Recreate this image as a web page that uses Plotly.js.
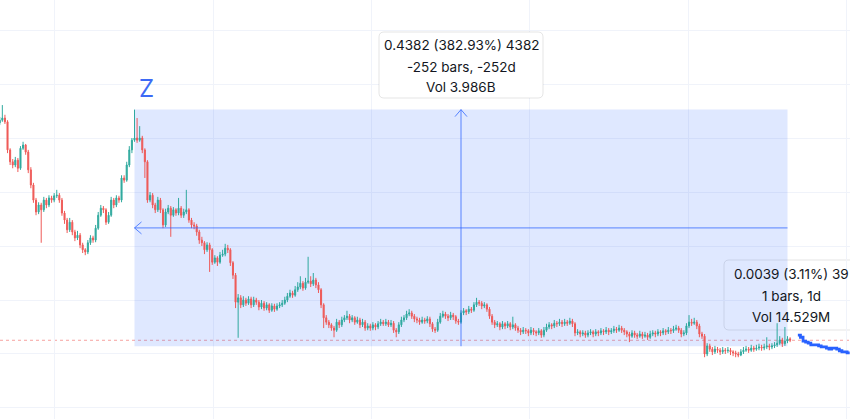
<!DOCTYPE html>
<html>
<head>
<meta charset="utf-8">
<script src="https://cdn.plot.ly/plotly-3.0.1.min.js"></script>
<style>html,body{margin:0;padding:0;background:#fff;}#chart{width:850px;height:419px;}</style>
</head>
<body>
<div id="chart"></div>
<script>
// ---- data (daily bars, price) ----
const firstOpen = 0.528;
const closePrices = [
0.533,0.537,0.530,0.478,0.456,0.450,0.459,0.444,0.481,0.487,
0.474,0.441,0.413,0.385,0.363,0.376,0.367,0.385,0.376,0.389,
0.385,0.393,0.394,0.385,0.361,0.348,0.330,0.344,0.326,0.315,
0.320,0.302,0.293,0.289,0.306,0.315,0.311,0.333,0.357,0.370,
0.367,0.344,0.357,0.385,0.376,0.389,0.385,0.426,0.422,0.450,
0.478,0.496,0.500,0.496,0.500,0.478,0.456,0.385,0.394,0.376,
0.367,0.385,0.367,0.339,0.363,0.370,0.357,0.367,0.361,0.370,
0.357,0.363,0.367,0.348,0.339,0.337,0.326,0.311,0.306,0.293,
0.302,0.293,0.270,0.278,0.270,0.283,0.285,0.296,0.293,0.269,
0.246,0.196,0.204,0.191,0.200,0.194,0.202,0.191,0.200,0.196,
0.187,0.194,0.185,0.191,0.181,0.189,0.183,0.189,0.191,0.194,
0.200,0.207,0.213,0.209,0.219,0.224,0.231,0.222,0.233,0.235,
0.230,0.237,0.228,0.219,0.191,0.167,0.159,0.154,0.148,0.144,
0.159,0.154,0.163,0.167,0.170,0.163,0.167,0.159,0.163,0.154,
0.159,0.148,0.152,0.148,0.154,0.150,0.156,0.159,0.156,0.159,
0.154,0.157,0.144,0.141,0.154,0.163,0.167,0.174,0.176,0.170,
0.165,0.163,0.159,0.163,0.161,0.165,0.156,0.146,0.144,0.159,
0.170,0.174,0.170,0.167,0.172,0.169,0.161,0.159,0.176,0.180,
0.178,0.183,0.181,0.191,0.196,0.194,0.189,0.191,0.183,0.170,
0.159,0.154,0.156,0.150,0.156,0.152,0.156,0.150,0.154,0.148,
0.144,0.141,0.144,0.143,0.139,0.144,0.141,0.139,0.143,0.135,
0.144,0.150,0.154,0.152,0.157,0.156,0.159,0.156,0.159,0.157,
0.161,0.156,0.139,0.141,0.137,0.139,0.135,0.139,0.141,0.137,
0.141,0.139,0.143,0.141,0.144,0.141,0.143,0.146,0.144,0.148,
0.144,0.141,0.137,0.133,0.139,0.135,0.133,0.137,0.133,0.135,
0.131,0.137,0.139,0.137,0.141,0.139,0.143,0.141,0.144,0.143,
0.146,0.148,0.144,0.137,0.139,0.152,0.159,0.157,0.159,0.152,
0.137,0.133,0.100,0.115,0.109,0.104,0.109,0.107,0.104,0.107,
0.106,0.107,0.104,0.102,0.100,0.098,0.104,0.107,0.109,0.107,
0.111,0.109,0.111,0.113,0.111,0.113,0.115,0.113,0.115,0.117,
0.120,0.126,0.119,0.124,0.128,0.1254
];
const highPrices = [
0.539,0.561,0.543,0.533,0.481,0.461,0.465,0.463,0.485,0.493,
0.489,0.478,0.446,0.417,0.389,0.381,0.380,0.391,0.389,0.394,
0.393,0.398,0.404,0.398,0.389,0.365,0.352,0.352,0.348,0.330,
0.328,0.324,0.306,0.296,0.311,0.320,0.319,0.339,0.363,0.376,
0.374,0.370,0.363,0.391,0.389,0.394,0.393,0.431,0.431,0.456,
0.485,0.500,0.5526,0.537,0.522,0.504,0.481,0.459,0.400,0.398,
0.380,0.391,0.389,0.370,0.369,0.376,0.374,0.372,0.370,0.389,
0.374,0.369,0.404,0.370,0.352,0.344,0.341,0.330,0.317,0.309,
0.307,0.306,0.296,0.283,0.281,0.289,0.293,0.304,0.302,0.296,
0.272,0.250,0.211,0.209,0.207,0.204,0.207,0.206,0.206,0.204,
0.200,0.200,0.198,0.196,0.194,0.194,0.193,0.194,0.196,0.200,
0.206,0.213,0.219,0.217,0.226,0.233,0.244,0.235,0.241,0.280,
0.244,0.250,0.241,0.233,0.222,0.194,0.172,0.163,0.157,0.152,
0.165,0.163,0.169,0.172,0.180,0.174,0.172,0.170,0.169,0.167,
0.165,0.163,0.157,0.156,0.159,0.157,0.161,0.165,0.163,0.165,
0.163,0.163,0.161,0.148,0.159,0.169,0.172,0.180,0.183,0.180,
0.174,0.169,0.167,0.169,0.167,0.170,0.169,0.159,0.150,0.165,
0.176,0.180,0.178,0.174,0.178,0.176,0.172,0.165,0.181,0.185,
0.183,0.189,0.187,0.196,0.204,0.200,0.198,0.196,0.194,0.187,
0.174,0.163,0.161,0.159,0.161,0.159,0.161,0.159,0.169,0.157,
0.152,0.148,0.150,0.148,0.146,0.150,0.148,0.144,0.148,0.146,
0.150,0.156,0.159,0.157,0.163,0.161,0.165,0.163,0.165,0.163,
0.167,0.165,0.159,0.146,0.144,0.144,0.143,0.144,0.146,0.144,
0.146,0.144,0.148,0.146,0.150,0.148,0.148,0.152,0.150,0.154,
0.152,0.148,0.144,0.141,0.144,0.143,0.139,0.143,0.141,0.141,
0.139,0.143,0.144,0.143,0.146,0.144,0.148,0.146,0.150,0.148,
0.152,0.154,0.152,0.148,0.144,0.157,0.172,0.165,0.167,0.163,
0.156,0.141,0.137,0.120,0.119,0.113,0.115,0.113,0.111,0.113,
0.111,0.113,0.111,0.107,0.106,0.104,0.109,0.113,0.115,0.113,
0.117,0.115,0.117,0.119,0.117,0.119,0.131,0.119,0.120,0.122,
0.157,0.133,0.130,0.150,0.133,0.131
];
const lowPrices = [
0.524,0.530,0.526,0.472,0.450,0.444,0.446,0.437,0.441,0.478,
0.469,0.435,0.407,0.380,0.357,0.359,0.306,0.363,0.370,0.372,
0.380,0.381,0.389,0.380,0.356,0.341,0.324,0.326,0.320,0.309,
0.311,0.296,0.287,0.283,0.285,0.302,0.306,0.307,0.330,0.354,
0.361,0.339,0.341,0.354,0.370,0.372,0.380,0.381,0.417,0.419,
0.446,0.472,0.493,0.491,0.493,0.472,0.426,0.380,0.381,0.370,
0.361,0.363,0.361,0.333,0.335,0.359,0.317,0.354,0.356,0.357,
0.352,0.352,0.359,0.343,0.333,0.331,0.319,0.304,0.300,0.285,
0.289,0.252,0.265,0.267,0.263,0.267,0.280,0.281,0.287,0.263,
0.239,0.185,0.130,0.185,0.187,0.189,0.191,0.185,0.187,0.191,
0.181,0.183,0.180,0.181,0.176,0.178,0.178,0.180,0.185,0.187,
0.191,0.196,0.204,0.204,0.206,0.215,0.220,0.217,0.219,0.230,
0.224,0.226,0.222,0.213,0.185,0.148,0.154,0.148,0.143,0.131,
0.141,0.148,0.150,0.159,0.163,0.157,0.159,0.154,0.156,0.148,
0.150,0.143,0.144,0.143,0.144,0.144,0.146,0.152,0.152,0.152,
0.150,0.150,0.139,0.131,0.137,0.150,0.159,0.163,0.170,0.165,
0.159,0.157,0.154,0.156,0.156,0.157,0.150,0.141,0.139,0.141,
0.156,0.167,0.165,0.161,0.163,0.163,0.156,0.154,0.156,0.172,
0.172,0.174,0.176,0.178,0.187,0.189,0.183,0.185,0.178,0.165,
0.154,0.148,0.150,0.144,0.146,0.146,0.148,0.144,0.146,0.143,
0.139,0.135,0.137,0.137,0.133,0.135,0.135,0.133,0.135,0.130,
0.131,0.141,0.146,0.146,0.148,0.150,0.152,0.150,0.152,0.152,
0.154,0.150,0.133,0.135,0.131,0.133,0.130,0.131,0.135,0.131,
0.133,0.133,0.135,0.135,0.137,0.135,0.137,0.139,0.139,0.141,
0.139,0.135,0.131,0.122,0.130,0.130,0.128,0.130,0.128,0.130,
0.126,0.128,0.133,0.131,0.133,0.133,0.135,0.135,0.137,0.137,
0.139,0.143,0.139,0.131,0.133,0.135,0.148,0.152,0.154,0.146,
0.131,0.128,0.094,0.096,0.104,0.098,0.100,0.102,0.098,0.100,
0.100,0.102,0.098,0.096,0.094,0.094,0.096,0.100,0.104,0.102,
0.104,0.104,0.106,0.107,0.106,0.107,0.109,0.107,0.109,0.111,
0.113,0.117,0.113,0.115,0.120,0.122
];
// projected path after the last bar
const forecastStartBar = 308;
const forecastPrices = [
0.135,0.131,0.124,0.122,0.120,0.117,0.117,0.117,0.115,0.113,0.113,
0.111,0.109,0.111,0.111,0.109,0.106,0.104,0.104,0.102,0.102
];
// measurement (date/price range tool)
const measureEndBar = 304;
const measureBars = 252;
const measureLow = 0.1144;
const measureHigh = 0.5526;
const measureLabel = ["0.4382 (382.93%) 4382", "-252 bars, -252d", "Vol 3.986B"];
const smallLabel = ["0.0039 (3.11%) 39", "1 bars, 1d", "Vol 14.529M"];

// ---- build ----
const openPrices = closePrices.map((c, i) => i === 0 ? firstOpen : closePrices[i - 1]);
const bars = closePrices.map((_, i) => i);
const forecastBars = forecastPrices.map((_, k) => forecastStartBar + k);
const lastClose = closePrices[closePrices.length - 1];

const W = 850, H = 419;
const px = v => v / W, py = v => 1 - v / H;
function roundRect(x0, y0, x1, y1, r) {
  const a = px(x0), b = px(x1), t = py(y0), u = py(y1), rx = r / W, ry = r / H;
  return `M ${a+rx} ${t} L ${b-rx} ${t} Q ${b} ${t} ${b} ${t-ry} L ${b} ${u+ry} Q ${b} ${u} ${b-rx} ${u} L ${a+rx} ${u} Q ${a} ${u} ${a} ${u+ry} L ${a} ${t-ry} Q ${a} ${t} ${a+rx} ${t} Z`;
}

const blue = '#2962ff';
const toolLine = 'rgba(41,98,255,0.75)';
const x0 = measureEndBar - measureBars, x1 = measureEndBar;
const xm = (x0 + x1) / 2, ym = (measureLow + measureHigh) / 2;

const traces = [
  {
    type: 'candlestick', x: bars, open: openPrices, high: highPrices, low: lowPrices, close: closePrices,
    increasing: {line: {color: '#26a69a', width: 1}, fillcolor: '#26a69a'},
    decreasing: {line: {color: '#ef5350', width: 1}, fillcolor: '#ef5350'},
    whiskerwidth: 0, hoverinfo: 'skip', opacity: 0.95
  },
  {
    type: 'scatter', mode: 'lines', x: forecastBars, y: forecastPrices,
    line: {color: blue, width: 2.8, shape: 'hv'}, hoverinfo: 'skip'
  }
];

const shapes = [
  // small tooltip (underneath everything)
  {type: 'path', xref: 'paper', yref: 'paper', path: roundRect(724, 260, 860, 330, 5),
   fillcolor: '#ffffff', line: {color: 'rgba(0,0,0,0.10)', width: 1}, layer: 'below'},
  // measure box
  {type: 'rect', xref: 'x', yref: 'y', x0: x0, x1: x1, y0: measureLow, y1: measureHigh,
   fillcolor: 'rgba(41,98,255,0.15)', line: {width: 0}, layer: 'between'},
  {type: 'line', xref: 'x', yref: 'y', x0: xm, x1: xm, y0: measureLow, y1: measureHigh,
   line: {color: toolLine, width: 1}, layer: 'above'},
  {type: 'line', xref: 'x', yref: 'y', x0: x0, x1: x1, y0: ym, y1: ym,
   line: {color: toolLine, width: 1}, layer: 'above'},
  // arrow heads
  {type: 'path', xref: 'x', yref: 'y', xsizemode: 'pixel', ysizemode: 'pixel', xanchor: xm, yanchor: measureHigh,
   path: 'M -6 -7 L 0 0 L 6 -7', line: {color: toolLine, width: 1}, layer: 'above'},
  {type: 'path', xref: 'x', yref: 'y', xsizemode: 'pixel', ysizemode: 'pixel', xanchor: x0, yanchor: ym,
   path: 'M 7 6 L 0 0 L 7 -6', line: {color: toolLine, width: 1}, layer: 'above'},
  // last price line
  {type: 'line', xref: 'paper', yref: 'y', x0: 0, x1: 1, y0: lastClose, y1: lastClose,
   line: {color: 'rgba(239,83,80,0.55)', width: 1, dash: 'dot'}, layer: 'between'},
  // main tooltip
  {type: 'path', xref: 'paper', yref: 'paper', path: roundRect(379, 32, 543, 98, 5),
   fillcolor: '#ffffff', line: {color: 'rgba(0,0,0,0.10)', width: 1}, layer: 'above'}
];

const textFont = {family: 'Inter, "Open Sans", sans-serif', size: 13.5, color: '#131722'};
const annotations = [
  {xref: 'x', yref: 'paper', x: x0 + 4.5, y: py(88), text: 'Z', showarrow: false,
   xanchor: 'center', yanchor: 'middle',
   font: {family: 'Inter, "Open Sans", sans-serif', size: 24, color: '#3d6af5'}}
];
[45.5, 66.5, 87].forEach((yy, k) => annotations.push({xref: 'paper', yref: 'paper', x: px(461), y: py(yy),
  text: measureLabel[k], showarrow: false, font: textFont, xanchor: 'center', yanchor: 'middle'}));
[274, 296, 316.5].forEach((yy, k) => annotations.push({xref: 'paper', yref: 'paper', x: px(791), y: py(yy),
  text: smallLabel[k], showarrow: false, font: textFont, xanchor: 'center', yanchor: 'middle'}));

const layout = {
  width: W, height: H, margin: {l: 0, r: 0, t: 0, b: 0},
  paper_bgcolor: '#ffffff', plot_bgcolor: 'rgba(0,0,0,0)', showlegend: false,
  boxgap: 0.6, boxgroupgap: 0,
  xaxis: {range: [0.0965, 328.12], showticklabels: false, ticks: '', tickmode: 'array',
    tickvals: [21.3, 82.4, 143.5, 204.6, 265.7, 326.8], showgrid: true, gridcolor: '#f0f3fa', gridwidth: 1,
    zeroline: false, showline: false, rangeslider: {visible: false}, fixedrange: true},
  yaxis: {range: [-0.0204, 0.7556], showticklabels: false, ticks: '', tick0: 0, dtick: 0.1,
    showgrid: true, gridcolor: '#f0f3fa', gridwidth: 1, zeroline: false, showline: false, fixedrange: true},
  shapes: shapes, annotations: annotations, hovermode: false
};

Plotly.newPlot('chart', traces, layout, {displayModeBar: false, staticPlot: true});
</script>
</body>
</html>
